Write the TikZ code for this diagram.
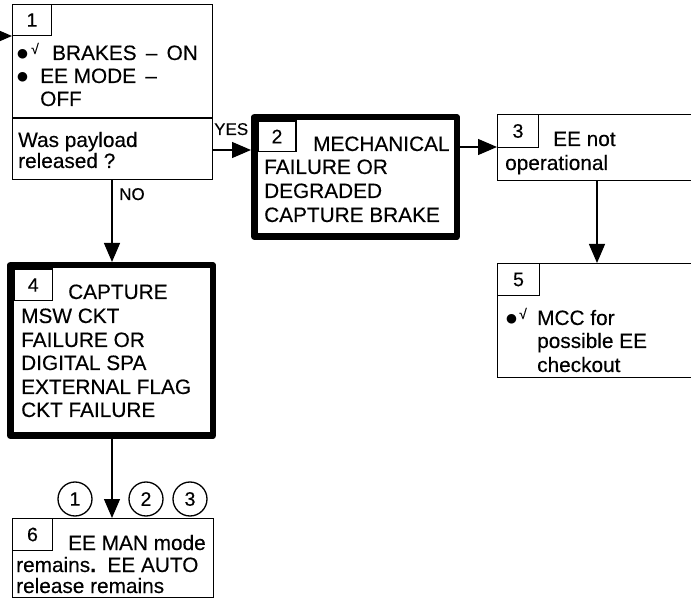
\documentclass[tikz,border=0pt]{standalone}
\usepackage{fontspec}
\setmainfont{Liberation Sans}[FakeBold=0.3]
\newfontfamily\djv{DejaVu Sans}
\usetikzlibrary{arrows.meta}
\newcommand\chkmk{\smash{\raisebox{6pt}{\fontsize{14}{14}\selectfont √}}}
\newcommand\blt{\raisebox{2.5pt}{\djv\fontsize{12.5}{12.5}\selectfont ●}}
\begin{document}
\begin{tikzpicture}[x=1pt,y=-1pt,
  box/.style={draw,line width=1.3pt,anchor=north west,inner sep=0pt},
  thickbox/.style={draw,line width=6.5pt,line join=round,anchor=north west,inner sep=0pt},
  numbox/.style={draw,line width=1.3pt,anchor=north west,inner sep=0pt,font=\fontsize{19.5}{19.5}\selectfont},
  txt/.style={anchor=base west,inner sep=0pt,font=\fontsize{20.8}{23.5}\selectfont},
  lbl/.style={anchor=base west,inner sep=0pt,font=\fontsize{17}{17}\selectfont},
  circ/.style={draw,circle,line width=1.3pt,minimum size=34pt,inner sep=0pt,font=\fontsize{19.5}{19.5}\selectfont},
  arr/.style={line width=1.3pt,-{Triangle[length=19pt,width=16pt]}}
]
\useasboundingbox (0,0) rectangle (691,609);
\clip (0,0) rectangle (691,609);

% boxes
\node[box,minimum width=199.7pt,minimum height=174.7pt] (b1) at (12,4) {};
\node[thickbox,minimum width=202.5pt,minimum height=119.5pt] (b2) at (251,114) {};
\node[box,minimum width=208.7pt,minimum height=65.7pt] (b3) at (497,114) {};
\node[thickbox,minimum width=202.5pt,minimum height=170.5pt] (b4) at (7,262) {};
\node[box,minimum width=208.7pt,minimum height=113.7pt] (b5) at (497,263) {};
\node[box,minimum width=200.7pt,minimum height=78.7pt] (b6) at (12,518) {};

% number boxes
\node[numbox,minimum width=38.7pt,minimum height=30.7pt] (n1) at (12,4) {1};
\node[numbox,minimum width=37.7pt,minimum height=30.7pt] (n2) at (257.5,120.5) {2};
\node[numbox,minimum width=40.7pt,minimum height=32.7pt] (n3) at (497,114) {3};
\node[numbox,minimum width=38.2pt,minimum height=31.7pt] (n4) at (13.5,268.5) {4};
\node[numbox,minimum width=41.7pt,minimum height=31.7pt] (n5) at (497,263) {5};
\node[numbox,minimum width=39.7pt,minimum height=31.7pt] (n6) at (12,518) {6};

% divider in box 1
\coordinate (div) at (0,118);
\draw[line width=1.3pt] (b1.west |- div) -- (b1.east |- div);

% texts box 1
\node[txt] (t1a) at (17,60) {\makebox[35pt][l]{\blt\hspace{3pt}\chkmk}BRAKES \,–\, ON};
\node[txt] (t1b) at (17,83) {\makebox[23pt][l]{\blt}EE MODE \,–};
\node[txt] (t1c) at (40,106) {OFF};
\node[txt] (t1d) at (18,147) {Was payload};
\node[txt] (t1e) at (18,168) {released ?};

% texts box 2
\node[txt] (t2a) at (313,151) {MECHANICAL};
\node[txt] (t2b) at (264,174) {FAILURE OR};
\node[txt] (t2c) at (264,198) {DEGRADED};
\node[txt] (t2d) at (264,222) {CAPTURE BRAKE};

% texts box 3
\node[txt] (t3a) at (553,146) {EE not};
\node[txt] (t3b) at (505,170) {operational};

% texts box 4
\node[txt] (t4a) at (68,299) {CAPTURE};
\node[txt] (t4b) at (21,323) {MSW CKT};
\node[txt] (t4c) at (21,347) {FAILURE OR};
\node[txt] (t4d) at (21,370) {DIGITAL SPA};
\node[txt] (t4e) at (21,394) {EXTERNAL FLAG};
\node[txt] (t4f) at (21,417) {CKT FAILURE};

% texts box 5
\node[txt] (t5a) at (506,325) {\makebox[31pt][l]{\blt\hspace{2pt}\chkmk}MCC for};
\node[txt] (t5b) at (537,348) {possible EE};
\node[txt] (t5c) at (537,372) {checkout};

% texts box 6
\node[txt] (t6a) at (68,550) {EE MAN mode};
\node[txt] (t6b) at (16,572) {remains\textbf{.}\ \ EE AUTO};
\node[txt] (t6c) at (16,593) {release remains};

% circles
\node[circ] (c1) at (75,499) {1};
\node[circ] (c2) at (146,499) {2};
\node[circ] (c3) at (190,499) {3};

% connectors
\coordinate (in) at (-25,36);
\draw[arr] (in) -- (b1.west |- in);
\coordinate (y12) at (0,150);
\draw[arr] (b1.east |- y12) -- (b2.west |- y12);
\node[lbl] (yes) at (214,135) {YES};
\coordinate (y23) at (0,147);
\draw[arr] (b2.east |- y23) -- (b3.west |- y23);
\coordinate (x14) at (112,0);
\draw[arr] (b1.south -| x14) -- (b4.north -| x14);
\node[lbl] (no) at (119,200) {NO};
\coordinate (x35) at (597,0);
\draw[arr] (b3.south -| x35) -- (b5.north -| x35);
\draw[arr] (b4.south -| x14) -- (b6.north -| x14);
\end{tikzpicture}
\end{document}
